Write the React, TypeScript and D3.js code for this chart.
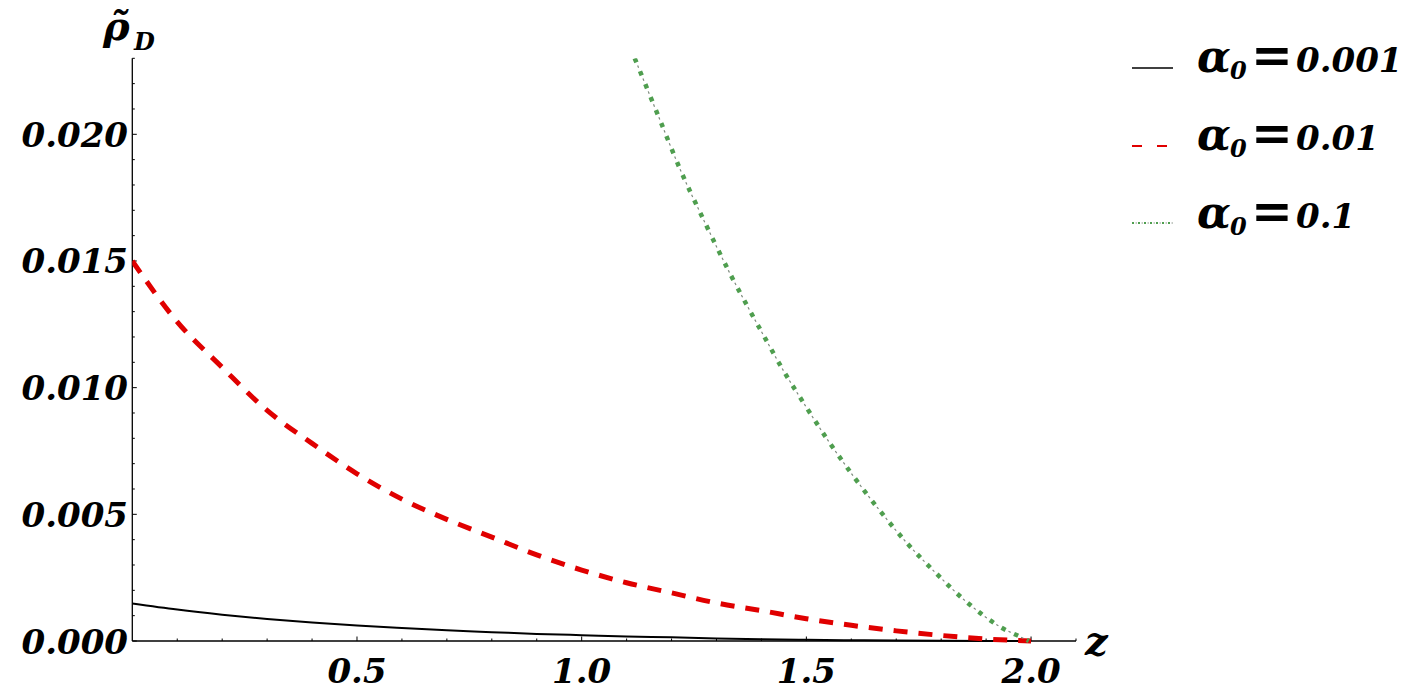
import React from "react";
import * as d3 from "d3";

const zGrid = [0, 0.1, 0.2, 0.3, 0.4, 0.5, 0.6, 0.7, 0.8, 0.9, 1.0, 1.1, 1.2, 1.3, 1.4, 1.5, 1.6, 1.7, 1.8, 1.9, 2.0];
const blackVals = [0.00148, 0.00124, 0.00104, 0.00087, 0.00073, 0.00061, 0.00051, 0.00042, 0.00035, 0.00028, 0.00023, 0.00018, 0.000145, 0.00010, 0.00007, 0.00005, 0.00003, 0.00002, 0.00001, 0.000003, 0];
const redVals = [0.0150, 0.0126, 0.0108, 0.0091, 0.0078, 0.0066, 0.0056, 0.0048, 0.0041, 0.0034, 0.0028, 0.0023, 0.0019, 0.0015, 0.0012, 0.00088, 0.00062, 0.00040, 0.00022, 0.00008, 0];
const greenZ = [1.118, 1.172, 1.219, 1.272, 1.327, 1.402, 1.448, 1.498, 1.55, 1.604, 1.661, 1.721, 1.786, 1.854, 1.931, 1.986, 1.995];
const greenVals = [0.0230, 0.02066, 0.01862, 0.0166, 0.01461, 0.01215, 0.0107, 0.00928, 0.00787, 0.00652, 0.0052, 0.00392, 0.00272, 0.00158, 0.00056, 0.00008, 0];

const yMajor = [0, 0.005, 0.01, 0.015, 0.02];
const xMajor = [0.5, 1.0, 1.5, 2.0];
const legendLabels = ["0.001", "0.01", "0.1"];

const FONT = "'DejaVu Serif', serif";

export default function App() {
  const x = d3.scaleLinear().domain([0, 2.1]).range([132.3, 1076]);
  const y = d3.scaleLinear().domain([0, 0.023]).range([641, 58.3]);
  const line = d3
    .line<[number, number]>()
    .x((d) => x(d[0]))
    .y((d) => y(d[1]))
    .curve(d3.curveMonotoneX);

  const blackPts = zGrid.map((z, i) => [z, blackVals[i]] as [number, number]);
  const redPts = zGrid.map((z, i) => [z, redVals[i]] as [number, number]);
  const greenPts = greenZ.map((z, i) => [z, greenVals[i]] as [number, number]);

  const yMinor = d3.range(0, 24).map((i) => i * 0.001);
  const xMinor = d3.range(1, 22).map((i) => i * 0.1);

  const legendY = [68, 146, 223];
  const legendBase = [72, 150, 228];

  return (
    <svg
      width={1410}
      height={696}
      style={{ position: "absolute", left: 0, top: 0, background: "#fff" }}
    >
      <defs>
        <clipPath id="plot">
          <rect x={x(0)} y={y(0.023)} width={x(2.1) - x(0)} height={y(0) - y(0.023) + 3} />
        </clipPath>
      </defs>
      <rect width={1410} height={696} fill="#fff" />

      {/* axes */}
      <g stroke="#000" strokeWidth={1.3}>
        <line x1={x(0)} x2={x(0)} y1={y(0.023)} y2={y(0)} />
        <line x1={x(0)} x2={x(2.1)} y1={y(0)} y2={y(0)} />
        {yMinor.map((v, i) => (
          <line key={"ym" + i} x1={x(0)} x2={x(0) + (i % 5 === 0 ? 4.5 : 2.5)} y1={y(v)} y2={y(v)} strokeWidth={1} />
        ))}
        {xMinor.map((v, i) => (
          <line key={"xm" + i} x1={x(v)} x2={x(v)} y1={y(0)} y2={y(0) - ((i + 1) % 5 === 0 ? 4.5 : 2.5)} strokeWidth={1} />
        ))}
      </g>

      {/* tick labels */}
      <g fontFamily={FONT} fontWeight="bold" fontStyle="italic" fontSize={34} fill="#000">
        {yMajor.map((v) => (
          <text key={"yl" + v} x={128} y={y(v) + 12.5} textAnchor="end">
            {d3.format(".3f")(v)}
          </text>
        ))}
        {xMajor.map((v) => (
          <text key={"xl" + v} x={x(v)} y={683} textAnchor="middle">
            {d3.format(".1f")(v)}
          </text>
        ))}
        <text x={1085} y={655} fontSize={40}>z</text>
        <text x={103} y={40} fontSize={40}>ρ̃</text>
        <text x={134} y={50} fontSize={24}>D</text>
      </g>

      {/* curves */}
      <g clipPath="url(#plot)" fill="none">
        <path d={line(blackPts) || ""} stroke="#000" strokeWidth={2} />
        <path d={line(redPts) || ""} stroke="#e00000" strokeWidth={5} strokeDasharray="14 11" />
        <path d={line(greenPts) || ""} stroke="#4f9e4f" strokeWidth={4.5} strokeDasharray="4.5 9.5" />
        <path d={line(greenPts) || ""} stroke="#7d8a7d" strokeWidth={1.2} strokeDasharray="0 7.75 2.5 3.75" />
      </g>

      {/* legend */}
      <g>
        <line x1={1132} x2={1173} y1={legendY[0]} y2={legendY[0]} stroke="#000" strokeWidth={1.3} />
        <line x1={1132} x2={1173} y1={legendY[1]} y2={legendY[1]} stroke="#e00000" strokeWidth={2} strokeDasharray="10 15" />
        <line x1={1132} x2={1173} y1={legendY[2]} y2={legendY[2]} stroke="#4f9e4f" strokeWidth={2} strokeDasharray="2 4" />
        <line x1={1132} x2={1173} y1={legendY[2]} y2={legendY[2]} stroke="#8a958a" strokeWidth={1} strokeDasharray="0 3.5 1.5 1" />
        {legendLabels.map((lab, i) => (
          <g key={lab} fontFamily={FONT} fontWeight="bold" fontStyle="italic" fill="#000">
            <text x={1197} y={legendBase[i]} fontSize={44}>α</text>
            <text x={1230} y={legendBase[i] + 7} fontSize={24}>0</text>
            <text x={1251} y={legendBase[i]} fontSize={50}>=</text>
            <text x={1296} y={legendBase[i]} fontSize={34}>{lab}</text>
          </g>
        ))}
      </g>
    </svg>
  );
}
